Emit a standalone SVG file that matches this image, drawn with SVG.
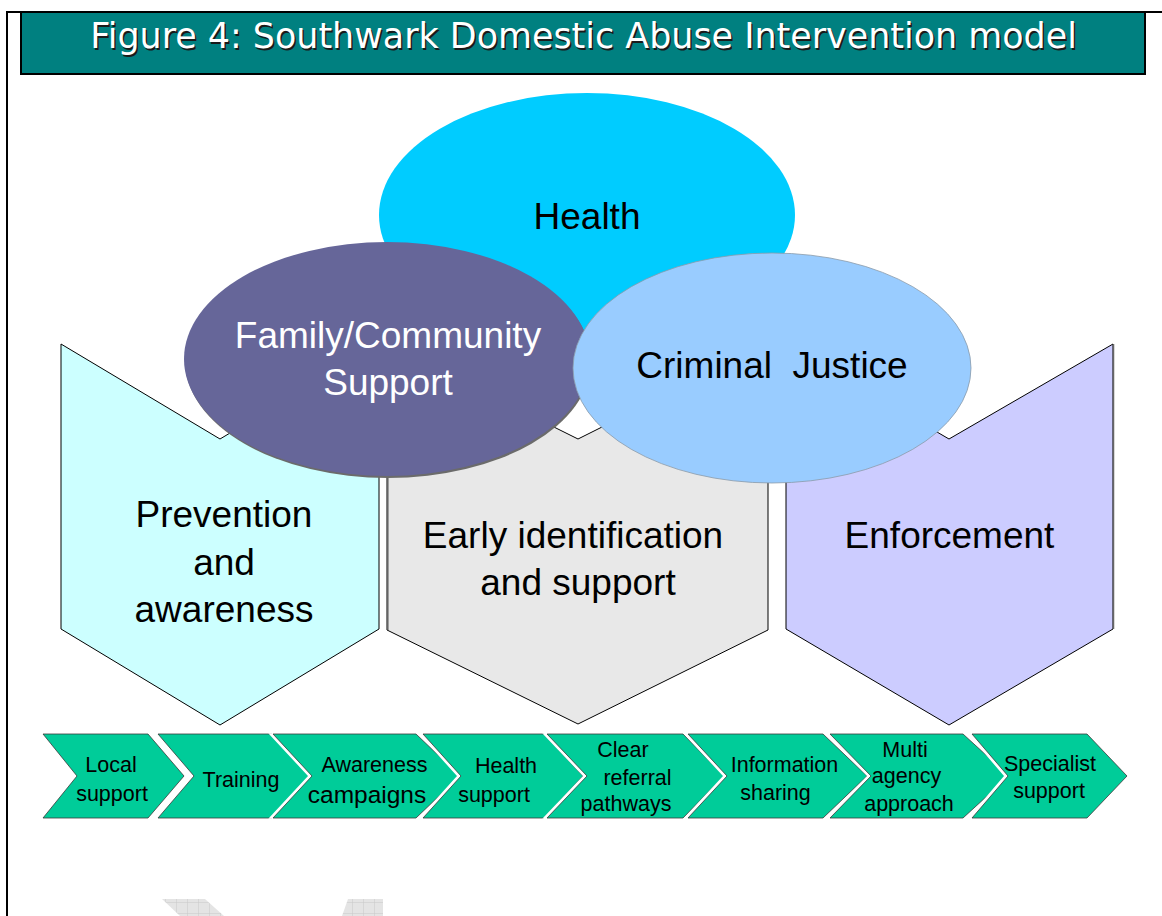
<svg xmlns="http://www.w3.org/2000/svg" width="1162" height="916" viewBox="0 0 1162 916">
  <defs>
    <pattern id="grid" width="11" height="11" patternUnits="userSpaceOnUse">
      <rect width="11" height="11" fill="#e4e4e4"/>
      <path d="M0 0H11M0 0V11" stroke="#c8c8c8" stroke-width="1" fill="none"/>
    </pattern>
  </defs>
  <style>
    .frame { stroke: #000; stroke-width: 2; fill: none; }
    .pent { stroke: #000; stroke-width: 1; }
    .chev { fill: #00CC99; stroke: #3a3a3a; stroke-width: 0.8; }
    .gap { fill: #fff; stroke: #fff; stroke-width: 1.5; }
    .big { font-family: "Liberation Sans", Arial, sans-serif; font-size: 37px; text-anchor: middle; }
    .small { font-family: "Liberation Sans", Arial, sans-serif; font-size: 21.5px; text-anchor: middle; fill: #000; }
    .title { font-family: "DejaVu Sans", Verdana, sans-serif; font-size: 34.9px; text-anchor: middle; }
  </style>

  <rect width="1162" height="916" fill="#fff"/>

  <!-- frame -->
  <path class="frame" d="M7 916V12H1162"/>

  <!-- title -->
  <g id="title">
    <rect x="21" y="12" width="1124" height="62" fill="#008080" stroke="#000" stroke-width="2"/>
    <text class="title" x="585" y="50" fill="#1a1a1a">Figure 4: Southwark Domestic Abuse Intervention model</text>
    <text class="title" x="583.5" y="48" fill="#fff">Figure 4: Southwark Domestic Abuse Intervention model</text>
  </g>

  <!-- pentagons -->
  <g id="prevention">
    <polygon class="pent" fill="#CCFFFF" points="61,344 220,439 379,344 379,629 220,725 61,629"/>
  </g>
  <g id="early">
    <polygon class="pent" fill="#E8E8E8" points="387,344 578,439 768,344 768,630 578,724 387,630"/>
    <line x1="388" y1="440" x2="388" y2="630" stroke="#555" stroke-width="1"/>
  </g>
  <g id="enforcement">
    <polygon class="pent" fill="#CCCCFF" points="786,344 949,439 1113,344 1113,629 949,725 786,629"/>
    <line x1="1113.5" y1="344" x2="1113.5" y2="629" stroke="#666" stroke-width="1.5"/>
  </g>

  <!-- ellipses -->
  <g id="health">
    <ellipse cx="587" cy="215" rx="208" ry="122" fill="#00CCFF"/>
    <text class="big" x="587" y="229" fill="#000">Health</text>
  </g>
  <g id="family">
    <ellipse cx="388" cy="361" rx="203" ry="117" fill="#6b6b6b"/>
    <ellipse cx="387" cy="359" rx="203" ry="117" fill="#666699"/>
    <text class="big" x="388" y="348" fill="#fff">Family/Community</text>
    <text class="big" x="388" y="395" fill="#fff">Support</text>
  </g>
  <g id="criminal">
    <ellipse cx="772" cy="368" rx="199" ry="115" fill="#99CCFF" stroke="#8a9aaa" stroke-width="0.8"/>
    <text class="big" x="772" y="378" fill="#000" xml:space="preserve">Criminal  Justice</text>
  </g>

  <!-- pentagon labels -->
  <text class="big" x="224" y="527" fill="#000">Prevention</text>
  <text class="big" x="224" y="575" fill="#000">and</text>
  <text class="big" x="224" y="622" fill="#000">awareness</text>
  <text class="big" x="573" y="548" fill="#000">Early identification</text>
  <text class="big" x="578" y="595" fill="#000">and support</text>
  <text class="big" x="949.5" y="548" fill="#000">Enforcement</text>

  <!-- chevrons -->
  <g id="c1">
    <polygon class="chev" points="43,734 148,734 184,776 148,818 43,818 77,776"/>
    <text class="small" x="111" y="772">Local</text>
    <text class="small" x="112" y="801">support</text>
  </g>
  <g id="c2">
    <polygon class="gap" points="155,734 269,734 307,776 269,818 155,818 191,776"/>
    <polygon class="chev" points="158,734 272,734 310,776 272,818 158,818 194,776"/>
    <text class="small" x="241" y="787">Training</text>
  </g>
  <g id="c3">
    <polygon class="gap" points="270,734 413,734 457,776 413,818 270,818 309,776"/>
    <polygon class="chev" points="273,734 416,734 460,776 416,818 273,818 312,776"/>
    <text class="small" x="374.5" y="772">Awareness</text>
    <text class="small" x="367" y="803" style="font-size:24.5px">campaigns</text>
  </g>
  <g id="c4">
    <polygon class="gap" points="420,734 541,734 580,776 541,818 420,818 458,776"/>
    <polygon class="chev" points="423,734 544,734 583,776 544,818 423,818 461,776"/>
    <text class="small" x="506" y="773">Health</text>
    <text class="small" x="494" y="802">support</text>
  </g>
  <g id="c5">
    <polygon class="gap" points="544,734 680,734 721,776 680,818 544,818 584,776"/>
    <polygon class="chev" points="547,734 683,734 724,776 683,818 547,818 587,776"/>
    <text class="small" x="623" y="757">Clear</text>
    <text class="small" x="637.5" y="785">referral</text>
    <text class="small" x="626" y="811">pathways</text>
  </g>
  <g id="c6">
    <polygon class="gap" points="685,734 820,734 864,776 820,818 685,818 724,776"/>
    <polygon class="chev" points="688,734 823,734 867,776 823,818 688,818 727,776"/>
    <text class="small" x="784.5" y="772">Information</text>
    <text class="small" x="775.5" y="800">sharing</text>
  </g>
  <g id="c7">
    <polygon class="gap" points="827,734 960,734 1006,776 960,818 827,818 868,776"/>
    <polygon class="chev" points="830,734 963,734 1009,776 963,818 830,818 871,776"/>
    <text class="small" x="905" y="757">Multi</text>
    <text class="small" x="906.5" y="783">agency</text>
    <text class="small" x="909" y="811">approach</text>
  </g>
  <g id="c8">
    <polygon class="gap" points="969,734 1084,734 1124,776 1084,818 969,818 1005,776"/>
    <polygon class="chev" points="972,734 1087,734 1127,776 1087,818 972,818 1008,776"/>
    <text class="small" x="1050" y="771">Specialist</text>
    <text class="small" x="1049" y="798">support</text>
  </g>

  <!-- faint artifacts at bottom -->
  <polygon points="162,899 205,899 224,916 180,916" fill="url(#grid)"/>
  <polygon points="348,899 383,899 383,916 342,916" fill="url(#grid)"/>
</svg>
